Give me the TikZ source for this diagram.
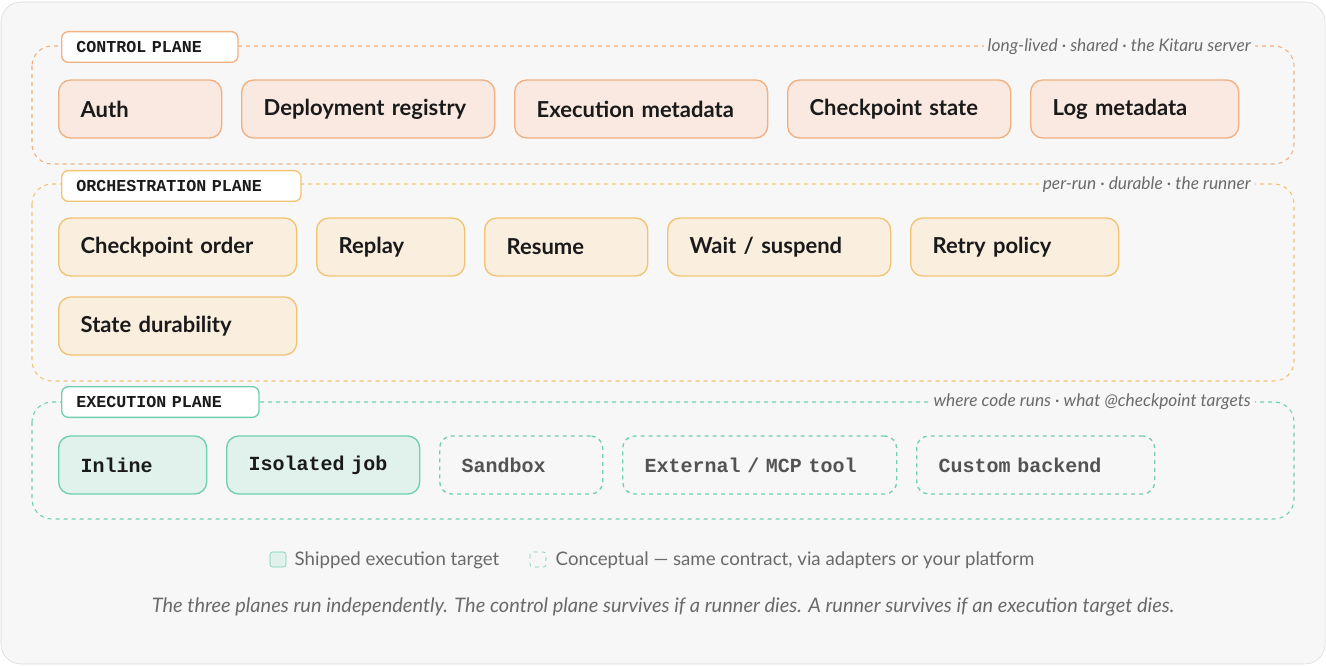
\documentclass[tikz,border=0pt]{standalone}
\usepackage{fontspec}
\setmainfont{Lato}
\newfontfamily\tagfont{Liberation Mono}
\usetikzlibrary{positioning}

\definecolor{ctrlfill}{HTML}{F9E9E1}
\definecolor{ctrldraw}{HTML}{F0B07F}
\definecolor{orchfill}{HTML}{FAEEDF}
\definecolor{orchdraw}{HTML}{F2C373}
\definecolor{execfill}{HTML}{E0F2EB}
\definecolor{execdraw}{HTML}{6FD0AD}
\definecolor{inkdark}{HTML}{1A1A1A}
\definecolor{inkgray}{HTML}{6A6A6A}

\tikzset{
  px/.style={x=0.75pt,y=-0.75pt},
  itembox/.style={rounded corners=9pt,line width=1pt,minimum height=43.5pt,
    inner xsep=16.5pt,anchor=west,align=left,text=inkdark,font=\fontsize{16.5}{18}\selectfont\bfseries},
  ctrlbox/.style={itembox,draw=ctrldraw,fill=ctrlfill},
  orchbox/.style={itembox,draw=orchdraw,fill=orchfill},
  execbox/.style={itembox,draw=execdraw,fill=execfill,font=\tagfont\bfseries\fontsize{15}{17}\selectfont},
  conceptbox/.style={itembox,draw=execdraw,dashed,fill=none,text=inkdark!75,font=\tagfont\bfseries\fontsize{15}{17}\selectfont},
  planebox/.style={rounded corners=15pt,dashed,line width=0.8pt},
  planetag/.style={draw,rounded corners=5pt,fill=white,line width=1pt,anchor=west,
    minimum height=23pt,inner xsep=11pt,font=\tagfont\bfseries\fontsize{12.5}{14}\selectfont,text=inkdark},
  planenote/.style={anchor=east,font=\itshape\fontsize{13}{15}\selectfont,text=inkgray,fill=white!97!black,inner xsep=3pt}
}
% \itm{name}{left}{right}{mid y}{style}{text}
\newcommand{\itm}[6]{\node[#5,text width={(#3-#2-44)*0.75pt}] (#1) at (#2,#4) {#6};}

\begin{document}
\begin{tikzpicture}[px]
    \useasboundingbox (0,0) rectangle (1326,666);
    \draw[rounded corners=15pt,draw=black!15,fill=white!97!black] (1,2) rectangle (1325,664);

    % Control plane
    \draw[planebox,draw=ctrldraw] (32,46) rectangle (1294,164);
    \node[planetag,draw=ctrldraw,text width={(169-22)*0.75pt}] (ctrltag) at (61,47) {CONTROL PLANE};
    \node[planenote] (ctrlnote) at (1255,47) {long-lived · shared · the Kitaru server};
    \itm{auth}{58}{221}{109}{ctrlbox}{Auth}
    \itm{deploy}{241}{494}{109}{ctrlbox}{Deployment registry}
    \itm{execmeta}{514}{767}{109}{ctrlbox}{Execution metadata}
    \itm{ckstate}{787}{1010}{109}{ctrlbox}{Checkpoint state}
    \itm{logmeta}{1030}{1238}{109}{ctrlbox}{Log metadata}

    % Orchestration plane
    \draw[planebox,draw=orchdraw] (32,184) rectangle (1294,381);
    \node[planetag,draw=orchdraw,text width={(232-22)*0.75pt}] (orchtag) at (61,186) {ORCHESTRATION PLANE};
    \node[planenote] (orchnote) at (1255,185) {per-run · durable · the runner};
    \itm{ckorder}{58}{296}{247}{orchbox}{Checkpoint order}
    \itm{replay}{316}{464}{247}{orchbox}{Replay}
    \itm{resume}{484}{647}{247}{orchbox}{Resume}
    \itm{waitsus}{667}{890}{247}{orchbox}{Wait / suspend}
    \itm{retry}{910}{1118}{247}{orchbox}{Retry policy}
    \itm{statedur}{58}{296}{326}{orchbox}{State durability}

    % Execution plane
    \draw[planebox,draw=execdraw] (32,402) rectangle (1294,519);
    \node[planetag,draw=execdraw,text width={(190-22)*0.75pt}] (exectag) at (61,402) {EXECUTION PLANE};
    \node[planenote] (execnote) at (1255,402) {where code runs · what @checkpoint targets};
    \itm{inline}{58}{206}{465}{execbox}{Inline}
    \itm{isojob}{226}{419}{465}{execbox}{Isolated job}
    \itm{sandbox}{439}{602}{465}{conceptbox}{Sandbox}
    \itm{extmcp}{622}{896}{465}{conceptbox}{External / MCP tool}
    \itm{custom}{916}{1154}{465}{conceptbox}{Custom backend}

    % Legende
    \draw[rounded corners=2pt,draw=execdraw,fill=execfill] (270,552) rectangle (286,567);
    \node[anchor=west,text=inkgray,font=\fontsize{14}{16}\selectfont] (shipped) at (290,560) {Shipped execution target};
    \draw[rounded corners=2pt,draw=execdraw,dashed] (530,552) rectangle (546,567);
    \node[anchor=west,text=inkgray,font=\fontsize{14}{16}\selectfont] (concept) at (551,560) {Conceptual — same contract, via adapters or your platform};
    \node[text=inkgray,font=\itshape\fontsize{15}{17}\selectfont] (caption) at (663,607) {The three planes run independently. The control plane survives if a runner dies. A runner survives if an execution target dies.};
\end{tikzpicture}
\end{document}
